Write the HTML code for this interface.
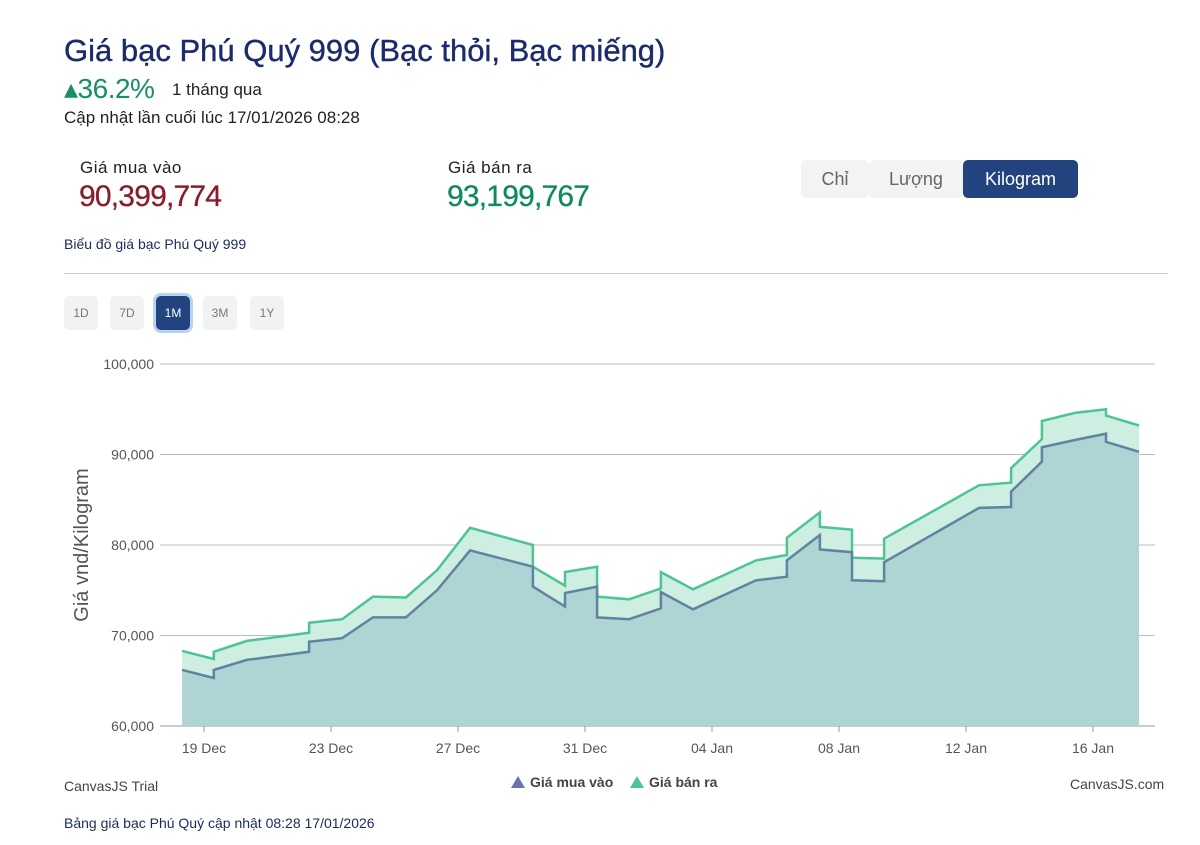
<!DOCTYPE html>
<html><head><meta charset="utf-8"><style>
body{margin:0;width:1200px;height:845px;background:#fff;font-family:"Liberation Sans",sans-serif;position:relative;overflow:hidden;color:#1c2b57}
.a{position:absolute;white-space:nowrap}
.btn{position:absolute;border-radius:5px;font-size:18px;text-align:center;line-height:38px;height:38px;top:160px;color:#666;background:#f1f3f4}
.rb{position:absolute;top:296px;height:34px;width:34px;border-radius:5px;background:#f1f2f3;color:#777;font-size:12px;text-align:center;line-height:34px}
</style></head><body>
<div class="a" style="left:64px;top:33px;font-size:31px;color:#1c2b6b;-webkit-text-stroke:0.4px #1c2b6b">Giá bạc Phú Quý 999 (Bạc thỏi, Bạc miếng)</div>
<div class="a" style="left:64px;top:72px;font-size:28px;color:#179067;letter-spacing:-0.5px">▴36.2%</div>
<div class="a" style="left:172px;top:80px;font-size:17px;color:#222">1 tháng qua</div>
<div class="a" style="left:64px;top:108px;font-size:17px;color:#222">Cập nhật lần cuối lúc 17/01/2026 08:28</div>
<div class="a" style="left:80px;top:158px;font-size:17px;color:#222;letter-spacing:0.5px">Giá mua vào</div>
<div class="a" style="left:79px;top:180px;font-size:30px;color:#8a1c2c;letter-spacing:-0.8px;-webkit-text-stroke:0.3px #8a1c2c">90,399,774</div>
<div class="a" style="left:448px;top:158px;font-size:17px;color:#222;letter-spacing:0.5px">Giá bán ra</div>
<div class="a" style="left:447px;top:180px;font-size:30px;color:#0f8a5e;letter-spacing:-0.8px;-webkit-text-stroke:0.3px #0f8a5e">93,199,767</div>
<div class="btn" style="left:801px;width:68px">Chỉ</div>
<div class="btn" style="left:869px;width:94px">Lượng</div>
<div class="btn" style="left:963px;width:115px;background:#23437f;color:#fff">Kilogram</div>
<div class="a" style="left:64px;top:236px;font-size:14px;color:#1c2b57">Biểu đồ giá bạc Phú Quý 999</div>
<div class="a" style="left:64px;top:273px;width:1104px;height:1px;background:#ccc"></div>
<div class="rb" style="left:64px">1D</div>
<div class="rb" style="left:110px">7D</div>
<div class="rb" style="left:156px;background:#23437f;color:#fff;box-shadow:0 0 0 3px #b9d3f3">1M</div>
<div class="rb" style="left:203px">3M</div>
<div class="rb" style="left:250px">1Y</div>
<svg id="chart" class="a" style="left:0;top:0" width="1200" height="845"></svg>
<div class="a" style="left:64px;top:778px;font-size:14px;color:#444">CanvasJS Trial</div>
<div class="a" style="left:1070px;top:776px;font-size:14px;color:#444">CanvasJS.com</div>
<div class="a" style="left:64px;top:815px;font-size:14px;color:#1c2b57">Bảng giá bạc Phú Quý cập nhật 08:28 17/01/2026</div>
<script>
const days=[-0.69,0.31,0.31,1.35,3.31,3.31,4.35,5.32,6.36,7.34,8.38,10.36,10.36,11.37,11.37,12.38,12.38,13.39,14.39,14.39,15.40,17.39,18.36,18.36,19.40,19.40,20.41,20.41,21.42,21.42,24.41,25.42,25.42,26.39,26.39,27.43,28.41,28.41,29.45];
const buyValues=[66200,65300,66200,67300,68200,69300,69700,72000,72000,75000,79400,77600,75400,73200,74700,75400,72000,71800,73000,74800,72900,76100,76500,78300,81100,79500,79200,76100,76000,78100,84100,84200,85900,89200,90800,91600,92300,91400,90300];
const sellValues=[68300,67400,68200,69400,70300,71400,71800,74300,74200,77200,81900,80000,77600,75500,77000,77600,74300,74000,75200,77000,75100,78300,78900,80800,83600,82000,81700,78600,78500,80700,86600,86900,88500,91700,93700,94600,95000,94300,93200];
const yTicks=[60000,70000,80000,90000,100000];
const xTickDays=[0,4,8,12,16,20,24,28];
const xTickLabels=["19 Dec","23 Dec","27 Dec","31 Dec","04 Jan","08 Jan","12 Jan","16 Jan"];
const svg=document.getElementById('chart');const NS='http://www.w3.org/2000/svg';
const X=d=>204+31.75*d;const Y=v=>726-(v-60000)*(362/40000);
function mk(t,a){const e=document.createElementNS(NS,t);for(const k in a)e.setAttribute(k,a[k]);svg.appendChild(e);return e;}
yTicks.forEach((v,i)=>{const l=mk('line',{x1:160,x2:1155,y1:Y(v),y2:Y(v),stroke:'#bbb','stroke-width':1});


const t=mk('text',{x:154,y:Y(v)+5,'text-anchor':'end','font-size':14,fill:'#555','font-family':'Liberation Sans'});t.textContent=v.toLocaleString('en-US');

});
mk('line',{x1:160,x2:1155,y1:726,y2:726,stroke:'#999'});
xTickDays.forEach((d,i)=>{mk('line',{x1:X(d),x2:X(d),y1:726,y2:732,stroke:'#999'});
const t=mk('text',{x:X(d),y:753,'text-anchor':'middle','font-size':14,fill:'#555','font-family':'Liberation Sans'});t.textContent=xTickLabels[i];

});
const yt=mk('text',{x:0,y:0,transform:'translate(88,545) rotate(-90)','text-anchor':'middle','font-size':20,fill:'#555','font-family':'Liberation Sans'});yt.textContent='Giá vnd/Kilogram';


function pts(vals){return days.map((d,i)=>X(d).toFixed(1)+','+Y(vals[i]).toFixed(1)).join(' ');}
function area(vals,fill,name){const p=mk('polygon',{points:X(days[0])+',726 '+pts(vals)+' '+X(days[days.length-1])+',726',fill:fill});

}
area(sellValues,'#cdeee0','sell-area');
area(buyValues,'#aed4d3','buy-area');
const l1=mk('polyline',{points:pts(sellValues),fill:'none',stroke:'#4cc594','stroke-width':2.5});


const l2=mk('polyline',{points:pts(buyValues),fill:'none',stroke:'#5f83a0','stroke-width':2.5});


const g1=mk('polygon',{points:'511,788 518,776 525,788',fill:'#6a72b0'});


const lt1=mk('text',{x:530,y:787,'font-size':14,'font-weight':'bold',fill:'#444','font-family':'Liberation Sans'});lt1.textContent='Giá mua vào';


const g2=mk('polygon',{points:'630,788 637,776 644,788',fill:'#4cc594'});


const lt2=mk('text',{x:649,y:787,'font-size':14,'font-weight':'bold',fill:'#444','font-family':'Liberation Sans'});lt2.textContent='Giá bán ra';


</script>
</body></html>
